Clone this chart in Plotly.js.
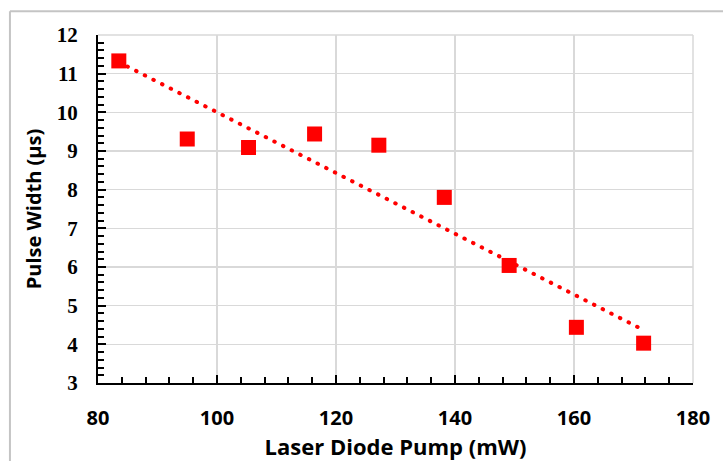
<!DOCTYPE html>
<html>
<head>
<meta charset="utf-8">
<script src="https://cdn.plot.ly/plotly-3.0.1.min.js"></script>
<style>
html,body{margin:0;padding:0;background:#fff;}
#chart{width:723px;height:461px;}
.trendline .js-line{stroke-linecap:round;}
</style>
</head>
<body>
<div id="chart"></div>
<script>
// Data
const pumpPower = [83.5, 95.0, 105.3, 116.4, 127.2, 138.2, 149.1, 160.4, 171.7];
const pulseWidth = [11.33, 9.31, 9.09, 9.44, 9.15, 7.80, 6.04, 4.44, 4.03];
// Linear trendline end points (as drawn in the reference)
const trendX = [83.5, 171.7];
const trendY = [11.30, 4.37];
const xTickVals = [80, 100, 120, 140, 160, 180];
const yTickVals = [3, 4, 5, 6, 7, 8, 9, 10, 11, 12];

const traces = [
  {
    x: trendX, y: trendY, type: 'scatter', mode: 'lines',
    line: {color: '#ff0000', width: 4, dash: '0.5px,9.2px'},
    hoverinfo: 'skip', showlegend: false
  },
  {
    x: pumpPower, y: pulseWidth, type: 'scatter', mode: 'markers',
    marker: {symbol: 'square', size: 15, color: '#ff0000', line: {width: 0}},
    showlegend: false
  }
];

const sansBold = {family: 'Open Sans, Liberation Sans, sans-serif', size: 20, color: '#000', weight: 'bold'};
const xTitleFont = {family: 'Open Sans, Liberation Sans, sans-serif', size: 22, color: '#000', weight: 'bold'};

const layout = {
  width: 723, height: 461,
  margin: {l: 98, r: 30, t: 35, b: 78},
  paper_bgcolor: '#ffffff', plot_bgcolor: '#ffffff',
  showlegend: false,
  xaxis: {
    range: [80, 180], tickvals: xTickVals, ticktext: xTickVals.map(String),
    showgrid: true, gridcolor: '#d9d9d9', gridwidth: 1.5,
    zeroline: false, showline: true, linecolor: '#000', linewidth: 2,
    ticks: 'inside', ticklen: 8, tickwidth: 2, tickcolor: '#000',
    minor: {dtick: 4, ticks: 'inside', ticklen: 6, tickwidth: 2, tickcolor: '#000', showgrid: false},
    tickfont: sansBold, ticklabelstandoff: 16,
    title: {text: 'Laser Diode Pump (mW)', font: xTitleFont, standoff: 5},
    fixedrange: true
  },
  yaxis: {
    range: [3, 12], tickvals: yTickVals, ticktext: yTickVals.map(String),
    showgrid: true, gridcolor: '#d9d9d9', gridwidth: 1.5,
    zeroline: false, showline: true, linecolor: '#000', linewidth: 2,
    ticks: 'inside', ticklen: 8, tickwidth: 2, tickcolor: '#000',
    minor: {dtick: 0.2, ticks: 'inside', ticklen: 6, tickwidth: 2, tickcolor: '#000', showgrid: false},
    tickfont: {family: 'Liberation Serif, Times New Roman, serif', size: 21, color: '#000', weight: 'bold'},
    ticklabelstandoff: 14,
    title: {text: 'Pulse Width (µs)', font: sansBold, standoff: 10},
    fixedrange: true
  },
  shapes: [
    {type: 'line', xref: 'paper', yref: 'paper', x0: -0.148, x1: 1.2, y0: 1.068, y1: 1.068, line: {color: '#c4c4c4', width: 2}},
    {type: 'line', xref: 'paper', yref: 'paper', x0: -0.148, x1: -0.148, y0: 1.068, y1: -0.3, line: {color: '#c4c4c4', width: 2}},
    {type: 'line', xref: 'paper', yref: 'paper', x0: 1, x1: 1, y0: 0, y1: 1, line: {color: '#d9d9d9', width: 1.5}},
    {type: 'line', xref: 'paper', yref: 'paper', x0: 0, x1: 1, y0: 1, y1: 1, line: {color: '#d9d9d9', width: 1.5}}
  ]
};

Plotly.newPlot('chart', traces, layout, {displayModeBar: false, staticPlot: true}).then(function(gd){
  const tr = gd.querySelectorAll('.scatterlayer .trace');
  if (tr.length) tr[0].classList.add('trendline');
});
</script>
</body>
</html>
